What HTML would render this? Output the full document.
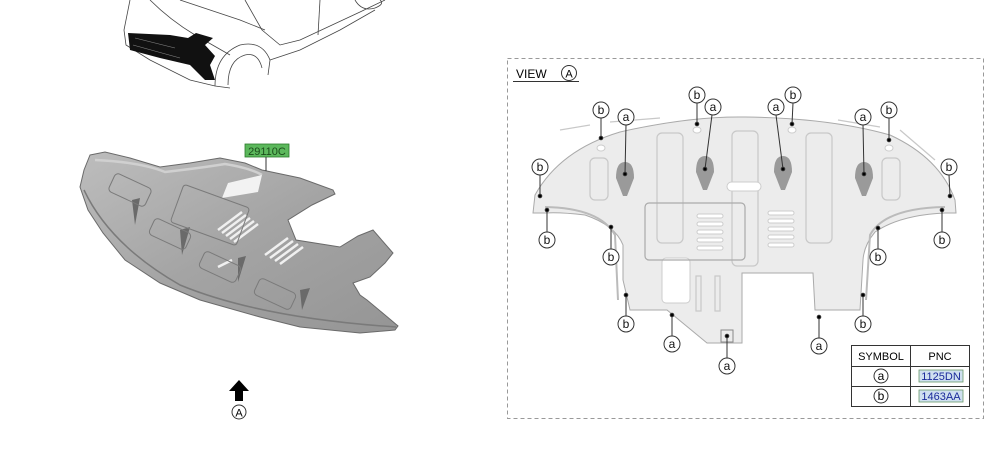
<!DOCTYPE html>
<html><head><meta charset="utf-8"><style>
html,body{margin:0;padding:0;background:#fff;width:1000px;height:455px;overflow:hidden}
svg{display:block;font-family:"Liberation Sans",sans-serif}
</style></head><body>
<svg width="1000" height="455" viewBox="0 0 1000 455">
<defs>
<linearGradient id="g1" x1="0" y1="0" x2="1" y2="1">
<stop offset="0" stop-color="#bdbdbd"/><stop offset="0.5" stop-color="#a4a4a4"/><stop offset="1" stop-color="#959595"/>
</linearGradient>
</defs>
<!-- car sketch -->
<g fill="none" stroke="#444" stroke-width="0.8">
<path d="M130 0 L124 30 L126 45 L150 60 L190 80 L215 86 L230 88"/>
<path d="M150 0 Q170 20 195 35 L230 55"/>
<path d="M180 0 L240 20 L265 30"/>
<path d="M245 0 L262 30 L280 45 L300 40 L360 12 L385 0"/>
<path d="M215 86 Q215 55 240 45 Q262 40 270 60 L268 75"/>
<path d="M228 85 Q228 60 245 55 Q258 52 262 68"/>
<path d="M270 60 L300 50 L340 30 L375 10"/>
<path d="M320 0 L318 35"/>
<path d="M355 0 Q362 12 375 8 Q385 4 380 0"/>
</g>
<path d="M128 33 L170 35 L188 38 L196 33 L213 38 L205 45 L215 56 L210 65 L215 80 L205 80 L190 65 L160 58 L130 50 Z" fill="#111"/>
<g stroke="#888" stroke-width="0.6" fill="none">
<path d="M135 38 L175 48"/><path d="M133 45 L180 58"/>
</g>
<!-- part image left -->
<path d="M90 155 L105 152 L130 158 L160 167 L190 163 L220 158 L245 163 L262 170 L300 178 L333 190 L335 194 L312 205 L288 220 L296 240 L340 247 L358 236 L373 230 L393 253 L385 263 L370 277 L353 283 L360 295 L367 300 L385 315 L398 326 L395 330 L360 333 L300 327 L260 317 L200 300 L160 283 L125 260 L103 233 L88 210 L80 187 L84 170 Z" fill="url(#g1)" stroke="#6a6a6a" stroke-width="1"/>
<path d="M95 160 Q140 162 165 172 Q200 168 225 164 Q250 168 262 175" fill="none" stroke="#d0d0d0" stroke-width="2.5"/>
<path d="M84 190 Q110 245 180 285 Q260 318 396 327" fill="none" stroke="#7a7a7a" stroke-width="1.5"/>
<path d="M228 183 L262 175 L258 192 L222 198 Z" fill="#f2f2f2"/>
<g stroke="#f0f0f0" stroke-width="2.5">
<path d="M218 230 L242 212"/><path d="M222 233 L246 215"/><path d="M226 236 L250 218"/><path d="M230 239 L254 221"/><path d="M234 242 L258 224"/>
<path d="M265 255 L288 238"/><path d="M270 258 L293 241"/><path d="M275 261 L298 244"/><path d="M280 264 L303 247"/>
<path d="M218 267 L232 260"/>
</g>
<g fill="#6a6a6a">
<path d="M132 200 L140 198 L135 225 Z"/><path d="M180 230 L190 227 L182 255 Z"/><path d="M238 258 L246 256 L238 282 Z"/><path d="M300 290 L310 288 L302 310 Z"/>
</g>
<g fill="none" stroke="#7a7a7a" stroke-width="1">
<rect x="110" y="180" width="40" height="20" rx="4" transform="rotate(25 130 190)"/>
<rect x="150" y="225" width="40" height="18" rx="4" transform="rotate(25 170 234)"/>
<rect x="200" y="258" width="40" height="18" rx="4" transform="rotate(25 220 267)"/>
<rect x="255" y="285" width="40" height="18" rx="4" transform="rotate(25 275 294)"/>
<rect x="175" y="195" width="70" height="40" rx="3" transform="rotate(20 210 215)"/>
</g>
<rect x="245" y="144" width="44" height="13" fill="#5cb85c" stroke="#2a7a2a" stroke-width="0.8"/>
<text x="267" y="155" font-size="11" text-anchor="middle" fill="#1b4d1b">29110C</text>
<line x1="266" y1="157" x2="266" y2="171" stroke="#333" stroke-width="1"/>
<!-- arrow A -->
<path d="M239 380 L249 391 L243 391 L243 401 L235 401 L235 391 L229 391 Z" fill="#000"/>
<circle cx="239" cy="412" r="7" fill="#fff" stroke="#333" stroke-width="1"/>
<text x="239" y="416.5" font-size="11" text-anchor="middle">A</text>
<!-- right panel -->
<rect x="507.5" y="58.5" width="476" height="360" fill="none" stroke="#999" stroke-dasharray="4,3"/>
<text x="516" y="78" font-size="12">VIEW</text>
<circle cx="569" cy="73" r="7.5" fill="#fff" stroke="#333"/>
<text x="569" y="77.5" font-size="11" text-anchor="middle">A</text>
<line x1="513" y1="81.5" x2="579" y2="81.5" stroke="#333"/>
<!-- panel shape -->
<path d="M533 213 L535 195 Q560 150 620 132 Q690 116 745 117 Q830 118 890 135 Q940 158 955 200 L956 213 L945 213 Q900 215 875 232 Q864 245 863 260 L860 310 L815 310 L813 273 L742 273 L742 343 L707 343 L667 310 L630 310 L623 280 L623 245 Q615 225 585 215 Q560 212 545 213 Z" fill="#ececec" stroke="#aaa" stroke-width="1"/>
<path d="M545 207 Q600 208 615 235 L618 300" fill="none" stroke="#bbb" stroke-width="2"/>
<path d="M945 207 Q885 208 870 235 L866 300" fill="none" stroke="#bbb" stroke-width="2"/>
<rect x="662" y="258" width="28" height="45" rx="4" fill="#fff" stroke="#ccc"/>
<g fill="none" stroke="#c8c8c8" stroke-width="1.2">
<rect x="590" y="158" width="18" height="42" rx="5"/>
<rect x="657" y="133" width="26" height="110" rx="5"/>
<rect x="732" y="131" width="26" height="135" rx="5"/>
<rect x="806" y="133" width="26" height="110" rx="5"/>
<rect x="882" y="158" width="18" height="42" rx="5"/>
<rect x="645" y="203" width="100" height="57" rx="4" stroke="#aaa"/>
<rect x="696" y="276" width="5" height="35"/><rect x="715" y="276" width="5" height="35"/>
<path d="M560 130 L590 125"/><path d="M610 122 L660 118"/><path d="M838 120 L880 127"/><path d="M900 130 L935 160"/>
</g>
<rect x="727" y="182" width="34" height="9" rx="4.5" fill="#fff" stroke="#ccc"/>
<g fill="#fff" stroke="#ccc">
<rect x="697" y="214" width="26" height="4" rx="2"/><rect x="697" y="222" width="26" height="4" rx="2"/><rect x="697" y="230" width="26" height="4" rx="2"/><rect x="697" y="238" width="26" height="4" rx="2"/><rect x="697" y="246" width="26" height="4" rx="2"/>
<rect x="768" y="211" width="26" height="4" rx="2"/><rect x="768" y="219" width="26" height="4" rx="2"/><rect x="768" y="227" width="26" height="4" rx="2"/><rect x="768" y="235" width="26" height="4" rx="2"/><rect x="768" y="243" width="26" height="4" rx="2"/>
<ellipse cx="601" cy="148" rx="4" ry="3"/><ellipse cx="697" cy="130" rx="4" ry="3"/><ellipse cx="792" cy="130" rx="4" ry="3"/><ellipse cx="889" cy="148" rx="4" ry="3"/>
</g>
<g fill="#9a9a9a">
<path d="M616 178 Q616 162 625 162 Q634 162 634 178 L627 196 L623 196 Z"/>
<path d="M696 172 Q696 156 705 156 Q714 156 714 172 L707 190 L703 190 Z"/>
<path d="M774 172 Q774 156 783 156 Q792 156 792 172 L785 190 L781 190 Z"/>
<path d="M855 178 Q855 162 864 162 Q873 162 873 178 L866 196 L862 196 Z"/>
</g>
<rect x="721" y="330" width="12" height="12" fill="none" stroke="#888"/>
<!-- callouts -->
<g stroke="#333" stroke-width="1" fill="#000">
<line x1="601" y1="118" x2="601" y2="138"/><circle cx="601" cy="138" r="1.8"/>
<line x1="540" y1="175" x2="540" y2="196"/><circle cx="540" cy="196" r="1.8"/>
<line x1="547" y1="232" x2="547" y2="210"/><circle cx="547" cy="210" r="1.8"/>
<line x1="611" y1="249" x2="611" y2="227"/><circle cx="611" cy="227" r="1.8"/>
<line x1="626" y1="316" x2="626" y2="295"/><circle cx="626" cy="295" r="1.8"/>
<line x1="697" y1="103" x2="697" y2="124"/><circle cx="697" cy="124" r="1.8"/>
<line x1="793" y1="103" x2="792" y2="124"/><circle cx="792" cy="124" r="1.8"/>
<line x1="889" y1="118" x2="889" y2="140"/><circle cx="889" cy="140" r="1.8"/>
<line x1="949" y1="175" x2="950" y2="196"/><circle cx="950" cy="196" r="1.8"/>
<line x1="942" y1="232" x2="942" y2="210"/><circle cx="942" cy="210" r="1.8"/>
<line x1="878" y1="249" x2="878" y2="228"/><circle cx="878" cy="228" r="1.8"/>
<line x1="863" y1="316" x2="863" y2="295"/><circle cx="863" cy="295" r="1.8"/>
<line x1="626" y1="125" x2="625" y2="174"/><circle cx="625" cy="174" r="1.8"/>
<line x1="712" y1="115" x2="705" y2="169"/><circle cx="705" cy="169" r="1.8"/>
<line x1="776" y1="115" x2="783" y2="169"/><circle cx="783" cy="169" r="1.8"/>
<line x1="863" y1="125" x2="864" y2="174"/><circle cx="864" cy="174" r="1.8"/>
<line x1="672" y1="336" x2="672" y2="315"/><circle cx="672" cy="315" r="1.8"/>
<line x1="727" y1="358" x2="727" y2="336"/><circle cx="727" cy="336" r="1.8"/>
<line x1="819" y1="338" x2="819" y2="317"/><circle cx="819" cy="317" r="1.8"/>
</g>
<g fill="#fff" stroke="#333" stroke-width="1">
<circle cx="601" cy="110" r="8"/><circle cx="540" cy="167" r="8"/><circle cx="547" cy="240" r="8"/><circle cx="611" cy="257" r="8"/><circle cx="626" cy="324" r="8"/>
<circle cx="697" cy="95" r="8"/><circle cx="793" cy="95" r="8"/><circle cx="889" cy="110" r="8"/><circle cx="949" cy="167" r="8"/><circle cx="942" cy="240" r="8"/><circle cx="878" cy="257" r="8"/><circle cx="863" cy="324" r="8"/>
<circle cx="626" cy="117" r="8"/><circle cx="713" cy="107" r="8"/><circle cx="776" cy="107" r="8"/><circle cx="863" cy="117" r="8"/><circle cx="672" cy="344" r="8"/><circle cx="727" cy="366" r="8"/><circle cx="819" cy="346" r="8"/>
</g>
<g font-size="12" text-anchor="middle" fill="#111">
<text x="601" y="114">b</text><text x="540" y="171">b</text><text x="547" y="244">b</text><text x="611" y="261">b</text><text x="626" y="328">b</text>
<text x="697" y="99">b</text><text x="793" y="99">b</text><text x="889" y="114">b</text><text x="949" y="171">b</text><text x="942" y="244">b</text><text x="878" y="261">b</text><text x="863" y="328">b</text>
<text x="626" y="121">a</text><text x="713" y="111">a</text><text x="776" y="111">a</text><text x="863" y="121">a</text><text x="672" y="348">a</text><text x="727" y="370">a</text><text x="819" y="350">a</text>
</g>
<!-- table -->
<g stroke="#333" stroke-width="1" fill="none">
<rect x="851.5" y="345.5" width="118" height="61"/>
<line x1="851" y1="366.5" x2="970" y2="366.5"/><line x1="851" y1="386.5" x2="970" y2="386.5"/>
<line x1="910.5" y1="345" x2="910.5" y2="407"/>
</g>
<text x="881" y="360" font-size="11" text-anchor="middle">SYMBOL</text>
<text x="940" y="360" font-size="11" text-anchor="middle">PNC</text>
<circle cx="881" cy="376" r="7" fill="#fff" stroke="#333"/><text x="881" y="380" font-size="12" text-anchor="middle">a</text>
<circle cx="881" cy="396" r="7" fill="#fff" stroke="#333"/><text x="881" y="400" font-size="12" text-anchor="middle">b</text>
<rect x="919" y="370" width="44" height="12" fill="#cfe0f0" stroke="#6a9a6a" stroke-width="0.8"/>
<text x="941" y="380" font-size="11" text-anchor="middle" fill="#1a2a9a">1125DN</text>
<rect x="919" y="390" width="44" height="12" fill="#cfe0f0" stroke="#6a9a6a" stroke-width="0.8"/>
<text x="941" y="400" font-size="11" text-anchor="middle" fill="#1a2a9a">1463AA</text>
</svg>
</body></html>
